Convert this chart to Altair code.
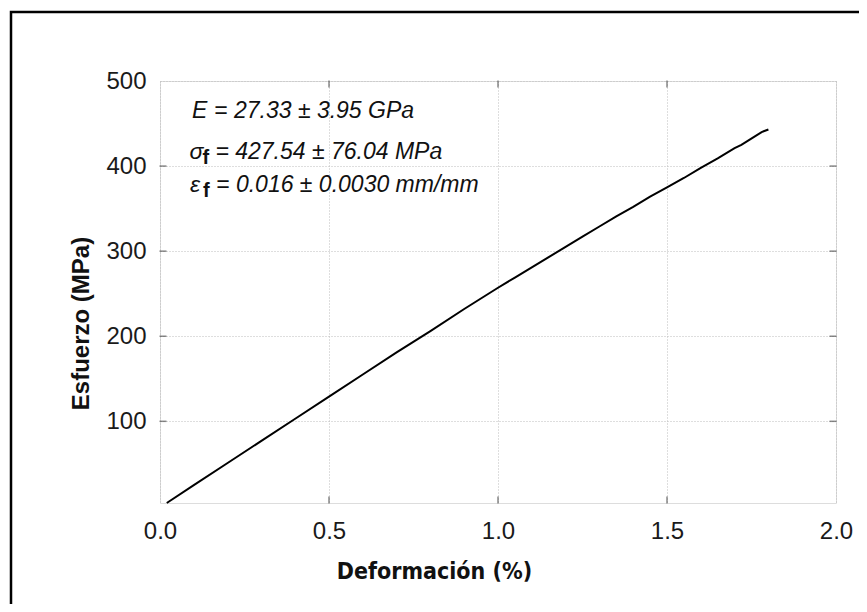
import altair as alt
import pandas as pd

# Stress-strain curve
strain = [0.02, 0.10, 0.20, 0.30, 0.40, 0.50, 0.60, 0.70, 0.80, 0.90, 1.00,
          1.05, 1.10, 1.15, 1.20, 1.25, 1.30, 1.35, 1.40, 1.45, 1.50,
          1.55, 1.60, 1.65, 1.70, 1.72, 1.74, 1.76, 1.78, 1.80]
stress = [4, 25, 51, 77, 103, 129, 155, 181, 206, 232, 257,
          269, 281, 293, 305, 317, 329, 341, 352, 364, 375,
          386, 398, 409, 421, 425, 430, 435, 440, 443]

x_ticks = [0.0, 0.5, 1.0, 1.5, 2.0]
y_ticks = [100, 200, 300, 400, 500]
x_inner_ticks = [0.5, 1.0, 1.5]
y_inner_ticks = [100, 200, 300, 400]

# Annotation lines
ann_x = [0.095, 0.087, 0.089]
ann_y = [464.7, 416.5, 377.8]
ann_sym = ["E", "σ", "ε"]
ann_sub = ["", "f", "f"]
ann_rest = ["= 27.33 ± 3.95 GPa", "= 427.54 ± 76.04 MPa", "= 0.016 ± 0.0030 mm/mm"]

curve = pd.DataFrame({"x": strain, "y": stress})
ann = pd.DataFrame({"x": ann_x, "y": ann_y, "sym": ann_sym, "sub": ann_sub, "rest": ann_rest})
xt = pd.DataFrame({"x": x_inner_ticks})
yt = pd.DataFrame({"y": y_inner_ticks})

xscale = alt.Scale(domain=[0, 2.0], nice=False, zero=False)
yscale = alt.Scale(domain=[4, 500], nice=False, zero=False)

xaxis = alt.Axis(values=x_ticks, format=".1f", grid=True, gridColor="#bdbdbd",
                 gridDash=[1, 2], gridWidth=1, domain=False, ticks=False,
                 labelFont="Liberation Sans", labelFontSize=24, labelColor="#1a1a1a",
                 labelPadding=16, labelFlush=False,
                 title="Deformación (%)", titleFont="DejaVu Sans Condensed, Liberation Sans",
                 titleFontSize=23, titleFontWeight="bold", titleColor="#111",
                 titleX=274, titleY=68, titleBaseline="middle", titleAlign="center")
yaxis = alt.Axis(values=y_ticks, format="d", grid=True, gridColor="#bdbdbd",
                 gridDash=[1, 2], gridWidth=1, domain=False, ticks=False,
                 labelFont="Liberation Sans", labelFontSize=24, labelColor="#1a1a1a",
                 labelPadding=14, labelFlush=False,
                 title="Esfuerzo (MPa)", titleFont="Liberation Sans",
                 titleFontSize=24, titleFontWeight="bold", titleColor="#111",
                 titleX=-79, titleY=242, titleAngle=-90, titleBaseline="middle",
                 titleAlign="center")

line = alt.Chart(curve).mark_line(color="black", strokeWidth=2).encode(
    x=alt.X("x:Q", scale=xscale, axis=xaxis),
    y=alt.Y("y:Q", scale=yscale, axis=yaxis),
)

txt_font = dict(font="Liberation Sans", fontSize=23, fontStyle="italic",
                color="#111", align="left", baseline="middle")
sym = alt.Chart(ann).mark_text(**txt_font).encode(
    x=alt.X("x:Q", scale=xscale), y=alt.Y("y:Q", scale=yscale), text="sym:N")
sub = alt.Chart(ann).mark_text(font="Liberation Sans", fontSize=20, fontWeight="bold",
                               color="#111", align="left", baseline="middle",
                               dx=13, dy=6).encode(
    x=alt.X("x:Q", scale=xscale), y=alt.Y("y:Q", scale=yscale), text="sub:N")
rest_main = alt.Chart(ann.iloc[1:]).mark_text(**txt_font, dx=26).encode(
    x=alt.X("x:Q", scale=xscale), y=alt.Y("y:Q", scale=yscale), text="rest:N")
rest_E = alt.Chart(ann.iloc[[0]]).mark_text(**txt_font, dx=22).encode(
    x=alt.X("x:Q", scale=xscale), y=alt.Y("y:Q", scale=yscale), text="rest:N")

tick_style = dict(color="#555", thickness=1.5, size=7)
top_t = alt.Chart(xt).mark_tick(**tick_style).encode(
    x=alt.X("x:Q", scale=xscale), y=alt.value(3))
bot_t = alt.Chart(xt).mark_tick(**tick_style).encode(
    x=alt.X("x:Q", scale=xscale), y=alt.value(419))
left_t = alt.Chart(yt).mark_tick(**tick_style).encode(
    y=alt.Y("y:Q", scale=yscale), x=alt.value(3))
right_t = alt.Chart(yt).mark_tick(**tick_style).encode(
    y=alt.Y("y:Q", scale=yscale), x=alt.value(673))

frame = alt.Chart(pd.DataFrame({"k": [0]})).mark_rect(
    fill=None, stroke="black", strokeWidth=2.5, clip=False).encode(
    x=alt.value(-149), y=alt.value(-69), x2=alt.value(900), y2=alt.value(700))

chart = alt.layer(frame, line, top_t, bot_t, left_t, right_t, sym, sub, rest_main, rest_E).properties(
    width=676, height=422,
    padding={"left": 152, "top": 73, "right": 23, "bottom": 101},
    autosize="none",
).configure_view(stroke="#555", strokeWidth=2).configure(background="white")

chart.save("out.html", embed_options={"renderer": "svg", "actions": False})
